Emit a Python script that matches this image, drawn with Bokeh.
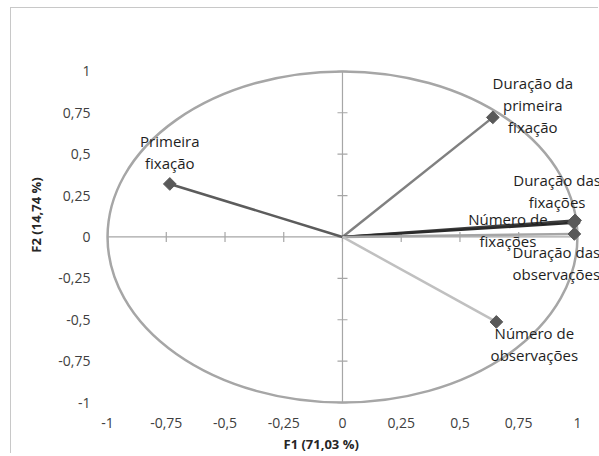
import numpy as np
from bokeh.plotting import figure
from bokeh.models import FixedTicker, Title, Range1d, ColumnDataSource
from bokeh.embed import file_html
from bokeh.resources import INLINE
from bokeh.core.properties import value

# ---- data ----
variables = ["Primeira\nfixação",
             "Duração da\nprimeira\nfixação",
             "Duração das\nfixações",
             "Número de\nfixações",
             "Duração das\nobservações",
             "Número de\nobservações"]
f1 = [-0.735, 0.640, 0.990, 0.985, 0.987, 0.655]
f2 = [0.320, 0.722, 0.100, 0.085, 0.018, -0.513]
ticks = [-1, -0.75, -0.5, -0.25, 0, 0.25, 0.5, 0.75, 1]
tick_labels = ["-1", "-0,75", "-0,5", "-0,25", "0", "0,25", "0,5", "0,75", "1"]
x_title = "F1 (71,03 %)"
y_title = "F2 (14,74 %)"

# ---- styles ----
line_colors = ["#5c5c5c", "#808080", "#3c3c3c", "#2a2a2a", "#a6a6a6", "#c0c0c0"]
label_dx = [0, 40, -18, -66, -18, 38]
label_dy = [-32, -12, -29, 7, 29, 22]
FONT = "Open Sans"

p = figure(width=588, height=446, output_backend="svg", toolbar_location=None,
           x_range=Range1d(-1.03, 1.094), y_range=Range1d(-1.042, 1.307),
           min_border_left=89, min_border_right=0, min_border_top=12,
           min_border_bottom=44)
p.outline_line_color = None
p.grid.visible = False
p.background_fill_color = "white"
p.border_fill_color = "white"
p.styles = {"box-shadow": "-1px -1px 0 0 #c8c8c8",
            "margin-left": "11px", "margin-top": "8px"}

for ax in (p.xaxis[0], p.yaxis[0]):
    ax.ticker = FixedTicker(ticks=ticks)
    ax.major_label_overrides = {t: l for t, l in zip(ticks, tick_labels)}
    ax.axis_line_color = None
    ax.major_tick_line_color = None
    ax.minor_tick_line_color = None
    ax.major_label_text_font = FONT
    ax.major_label_text_font_size = "14px"
    ax.major_label_text_color = "#404040"
p.xaxis.major_label_standoff = 2
p.yaxis.major_label_standoff = 4

p.yaxis.axis_label = y_title
p.yaxis.axis_label_text_font = FONT
p.yaxis.axis_label_text_font_size = "13px"
p.yaxis.axis_label_text_font_style = "bold"
p.yaxis.axis_label_text_color = "#262626"
p.yaxis.axis_label_standoff = 10

p.add_layout(Title(text=x_title, align="left", offset=183, standoff=4,
                   text_font=FONT, text_font_size="13px", text_font_style="bold",
                   text_color="#262626"), "below")

# axis lines through the origin with tick marks
tmin, tmax = min(ticks), max(ticks)
p.segment(x0=[tmin, 0], y0=[0, tmin], x1=[tmax, 0], y1=[0, tmax],
          line_color="#a6a6a6", line_width=1.2)
p.scatter(x=ticks, y=[0] * len(ticks), marker="dash", angle=np.pi / 2, size=10,
          line_color="#a6a6a6", line_width=1.2)
p.scatter(x=[0] * len(ticks), y=ticks, marker="dash", size=10,
          line_color="#a6a6a6", line_width=1.2)

# correlation circle
p.ellipse(x=0, y=0, width=2, height=2, fill_color=None,
          line_color="#a6a6a6", line_width=2.5)

# vectors
src = ColumnDataSource(dict(x0=[0] * len(f1), y0=[0] * len(f1), x1=f1, y1=f2,
                            color=line_colors, text=variables,
                            dx=label_dx, dy=label_dy))
p.segment(x0="x0", y0="y0", x1="x1", y1="y1", line_color="color",
          line_width=2.5, source=src)
p.scatter(x="x1", y="y1", marker="square", angle=np.pi / 4, size=9,
          fill_color="#595959", line_color="#595959", source=src)

p.text(x="x1", y="y1", text="text", x_offset="dx", y_offset="dy",
       text_align="center", text_baseline="middle", text_line_height=1.1,
       text_font=value(FONT), text_font_size="15px", text_color="#1e1e1e",
       source=src)

open("out.html", "w").write(file_html(p, INLINE))
